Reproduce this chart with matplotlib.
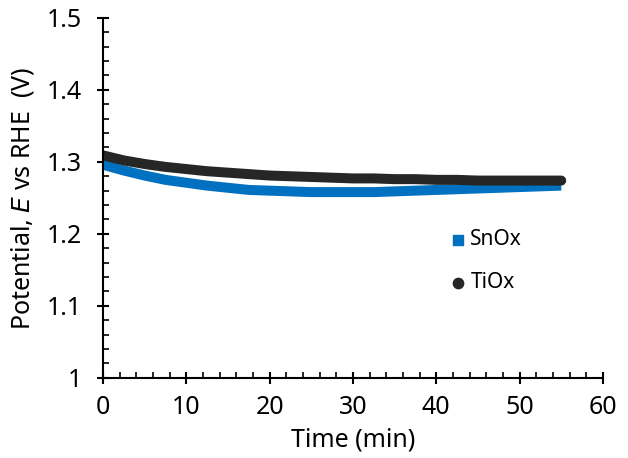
import matplotlib.pyplot as plt
from matplotlib.ticker import MultipleLocator

time_min = [0, 2.5, 5, 7.5, 10, 12.5, 15, 17.5, 20, 22.5, 25, 27.5,
            30, 32.5, 35, 37.5, 40, 42.5, 45, 47.5, 50, 52.5, 55]
snox = [1.296, 1.288, 1.281, 1.275, 1.271, 1.267, 1.264, 1.261, 1.260, 1.259, 1.258, 1.258,
        1.258, 1.258, 1.259, 1.260, 1.261, 1.262, 1.263, 1.264, 1.265, 1.266, 1.267]
tiox = [1.309, 1.302, 1.297, 1.293, 1.290, 1.287, 1.285, 1.283, 1.281, 1.280, 1.279, 1.278,
        1.277, 1.277, 1.276, 1.276, 1.275, 1.275, 1.274, 1.274, 1.274, 1.274, 1.274]

plt.rcParams['font.family'] = ['Noto Sans', 'DejaVu Sans']

fig = plt.figure(figsize=(6.28, 4.58), dpi=100)
ax = fig.add_axes([0.164, 0.175, 0.796, 0.786])

ax.plot(time_min, snox, color='#0070c0', lw=7.2, solid_capstyle='butt')
ax.plot(time_min, tiox, color='#262626', lw=7.2, solid_capstyle='round')

ax.set_xlim(0, 60)
ax.set_ylim(1.0, 1.5)
ax.xaxis.set_major_locator(MultipleLocator(10))
ax.xaxis.set_minor_locator(MultipleLocator(2))
ax.yaxis.set_major_locator(MultipleLocator(0.1))
ax.yaxis.set_minor_locator(MultipleLocator(0.02))
ax.yaxis.set_major_formatter(plt.FuncFormatter(lambda v, p: '1' if abs(v - 1) < 1e-9 else f'{v:.1f}'))

for s in ['top', 'right']:
    ax.spines[s].set_visible(False)
for s in ['left', 'bottom']:
    ax.spines[s].set_linewidth(1.5)
ax.tick_params(which='major', direction='inout', length=9, width=1.5, labelsize=18)
ax.tick_params(axis='x', which='major', pad=7.5)
ax.tick_params(axis='y', which='major', pad=10.5)
ax.tick_params(which='minor', direction='in', length=4, width=1.2)

ax.set_xlabel('Time (min)', fontsize=18, labelpad=6)
ax.set_ylabel('Potential, $\\mathit{E}$ vs RHE  (V)', fontsize=18, labelpad=8)

# legend
ax.scatter([0.71], [0.383], marker='s', s=55, color='#0070c0', transform=ax.transAxes)
ax.text(0.735, 0.383, 'SnOx', transform=ax.transAxes, fontsize=15, va='center')
ax.scatter([0.71], [0.264], marker='o', s=55, color='#262626', transform=ax.transAxes)
ax.text(0.735, 0.264, 'TiOx', transform=ax.transAxes, fontsize=15, va='center')

fig.savefig('out.png')
